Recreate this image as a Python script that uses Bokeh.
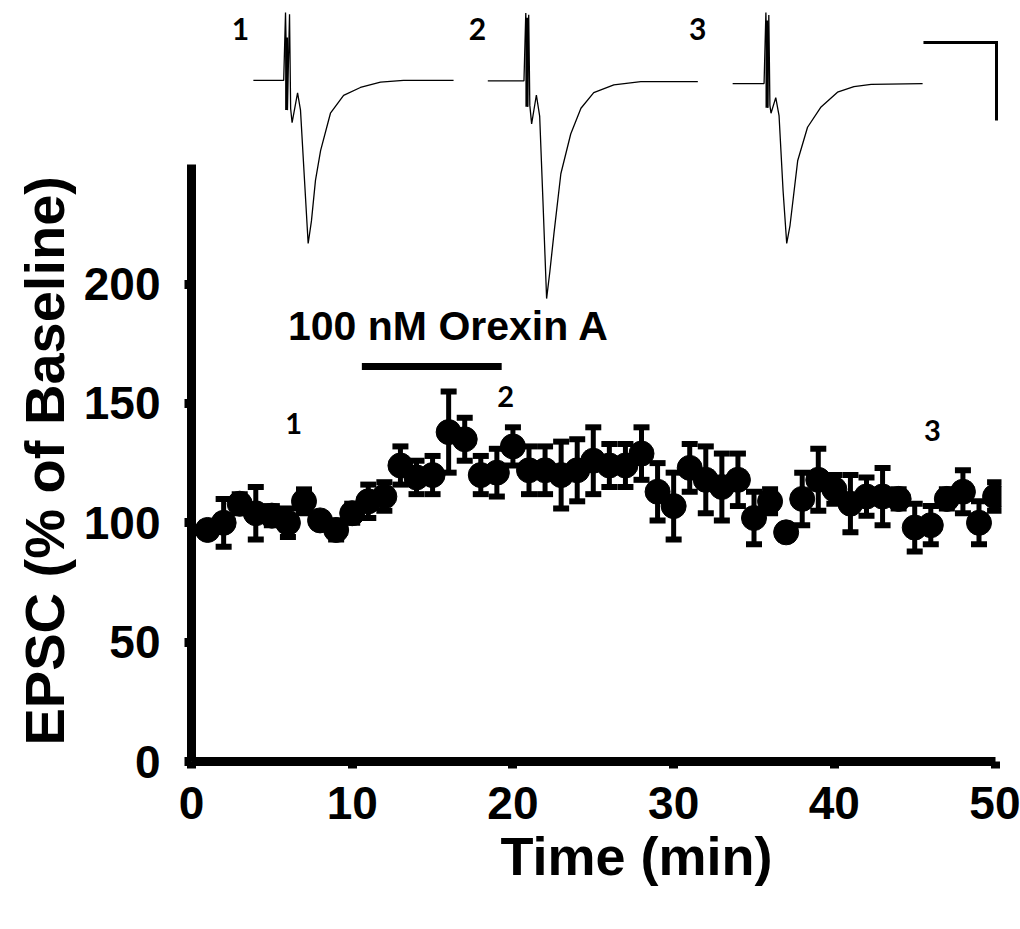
from bokeh.plotting import figure
from bokeh.models import Range1d, Whisker, TeeHead, ColumnDataSource, FixedTicker, Title
from bokeh.core.properties import value
from bokeh.embed import file_html
from bokeh.resources import INLINE

# ---- data: EPSC amplitude (% of baseline), mean and SEM per minute ----
time_min = list(range(1, 51))
epsc = [97, 100, 108, 104, 103, 100, 109, 101, 97, 104,
        109, 111, 124, 119, 120, 138, 135, 120, 121, 132,
        122, 122, 120, 122, 126, 124, 124, 129, 113, 107,
        123, 118, 115, 118, 102, 109, 96, 110, 118, 114,
        108, 111, 111, 110, 98, 99, 110, 113, 100, 111]
sem = [3, 10, 4, 11, 4, 6, 5, 3, 4, 4,
       7, 6, 8, 7, 8, 17, 9, 8, 10, 8,
       10, 10, 14, 13, 14, 9, 9, 11, 12, 14,
       10, 14, 14, 11, 11, 5, 3, 11, 13, 6,
       12, 8, 12, 4, 10, 8, 4, 9, 9, 6]

x_ticks = [0, 10, 20, 30, 40, 50]
y_ticks = [0, 50, 100, 150, 200]
x_title = "Time (min)"
y_title = "EPSC (% of Baseline)"

drug_label = "100 nM Orexin A"
drug_start = 10.6
drug_end = 19.3

# sample points marked 1, 2, 3 on the time course
mark_labels = ["1", "2", "3"]
mark_time = [6.35, 19.55, 46.1]
mark_level = [141.6, 152.9, 138.7]

# ---- example EPSC traces (time in ms from stimulus, current in pA) ----
trace1_t = [-8.8, -0.5, 0.0, 0.5, 1.1, 1.4, 1.8, 3.3, 4.1, 5.2, 6.2, 7.1, 8.2, 9.6, 12.3, 15.9, 20.5, 26.0, 32.3, 46.0]
trace1_i = [0, 0, 87, -38, 85, -36, -54, -16, -38, -128, -209, -180, -128, -90, -42, -19, -9, -2, 0, 0]
trace2_t = [-10.4, -0.5, 0.0, 0.5, 0.8, 1.1, 1.6, 2.9, 3.8, 4.7, 5.7, 6.6, 7.7, 9.6, 12.3, 15.1, 18.6, 24.1, 31.5, 47.1]
trace2_i = [0, 0, 87, -33, 85, -31, -55, -18, -45, -154, -279, -244, -196, -119, -68, -35, -15, -5, -1, -1]
trace3_t = [-9.1, -0.5, 0.0, 0.5, 0.8, 1.1, 1.4, 2.7, 3.6, 4.7, 5.7, 6.6, 8.7, 11.4, 15.1, 19.6, 24.1, 28.8, 42.9]
trace3_i = [0, 0, 91, -31, 88, -28, -38, -18, -41, -137, -205, -182, -99, -56, -30, -11, -4, -1, 0]
# stimulus artifact (dense part), pA
artifact_hi = [55, 81, 81]
artifact_lo = [-38, -33, -31]
artifact_t = 0.3
trace_labels = ["1", "2", "3"]
scale_ms = 20
scale_pa = 100

# ---- layout of the inset traces (in plot units) ----
MS_TO_X = 0.2273
PA_TO_Y = 0.3268
trace_x0 = [5.85, 20.8, 35.74]
trace_y0 = [285.3, 285.1, 284.0]
trace_label_x = [3.05, 17.8, 31.5]
trace_label_y = 307.0
scale_corner = (50.09, 301.2)

FONT = "Liberation Sans"

p = figure(width=1020, height=928,
           x_range=Range1d(0, 50.4), y_range=Range1d(0, 318.8),
           output_backend="svg", toolbar_location=None,
           min_border_left=191, min_border_right=19,
           min_border_top=0, min_border_bottom=167)
p.outline_line_color = None
p.xgrid.visible = False
p.ygrid.visible = False
p.background_fill_color = "white"
p.border_fill_color = "white"

for ax in (p.xaxis[0], p.yaxis[0]):
    ax.axis_line_width = 9
    ax.axis_line_color = "black"
    ax.major_tick_line_width = 9
    ax.major_tick_line_color = "black"
    ax.major_tick_out = 7
    ax.major_tick_in = 0
    ax.minor_tick_line_color = None
    ax.major_label_text_font = FONT
    ax.major_label_text_font_style = "bold"
    ax.major_label_text_font_size = "46px"
    ax.major_label_text_color = "black"

p.xaxis.ticker = FixedTicker(ticks=x_ticks)
p.yaxis.ticker = FixedTicker(ticks=y_ticks)
p.xaxis.bounds = (0, 50)
p.yaxis.bounds = (0, 250)
p.yaxis.major_label_standoff = 24
p.xaxis.major_label_standoff = 18

# axis titles (offset along the axis as in the reference)
p.add_layout(Title(text=y_title, align="left", offset=16, standoff=10,
                   text_font=FONT, text_font_style="bold", text_font_size="56px",
                   text_color="black"), "left")
p.add_layout(Title(text=x_title, align="left", offset=309, standoff=4,
                   text_font=FONT, text_font_style="bold", text_font_size="54px",
                   text_color="black"), "below")

src = ColumnDataSource(dict(
    x=time_min, y=epsc,
    lower=[m - s for m, s in zip(epsc, sem)],
    upper=[m + s for m, s in zip(epsc, sem)],
))
w = Whisker(base="x", upper="upper", lower="lower", source=src,
            line_width=5, line_color="black",
            upper_head=TeeHead(size=16, line_width=6, line_color="black"),
            lower_head=TeeHead(size=16, line_width=6, line_color="black"))
p.add_layout(w)
p.scatter("x", "y", source=src, size=25, color="black")

# drug application bar and label
bar_y = 165.5
p.segment(x0=[drug_start], y0=[bar_y], x1=[drug_end], y1=[bar_y],
          line_width=7, line_color="black")
p.text(x=[16.0], y=[182.5], text=[drug_label],
       text_font=value(FONT), text_font_style="bold", text_font_size="41px",
       text_align="center", text_baseline="middle", text_color="black")

p.text(x=mark_time, y=mark_level, text=mark_labels,
       text_font=value("Lato"), text_font_style="bold", text_font_size="29px",
       text_align="center", text_baseline="middle", text_color="black")

# inset traces
for t, cur, x0, y0 in zip([trace1_t, trace2_t, trace3_t],
                          [trace1_i, trace2_i, trace3_i],
                          trace_x0, trace_y0):
    xs = [x0 + tt * MS_TO_X for tt in t]
    ys = [y0 + ii * PA_TO_Y for ii in cur]
    p.line(xs, ys, line_width=1.3, line_color="black")

ax_x = [x0 + artifact_t * MS_TO_X for x0 in trace_x0]
p.segment(x0=ax_x, x1=ax_x,
          y0=[y0 + h * PA_TO_Y for y0, h in zip(trace_y0, artifact_hi)],
          y1=[y0 + l * PA_TO_Y for y0, l in zip(trace_y0, artifact_lo)],
          line_width=3, line_color="black")

p.text(x=trace_label_x, y=[trace_label_y] * 3, text=trace_labels,
       text_font=value("Lato"), text_font_style="bold", text_font_size="30px",
       text_align="center", text_baseline="middle", text_color="black")

cx, cy = scale_corner
p.line([cx - scale_ms * MS_TO_X, cx, cx], [cy, cy, cy - scale_pa * PA_TO_Y],
       line_width=3, line_color="black", line_join="miter")

open("out.html", "w").write(file_html(p, INLINE))
